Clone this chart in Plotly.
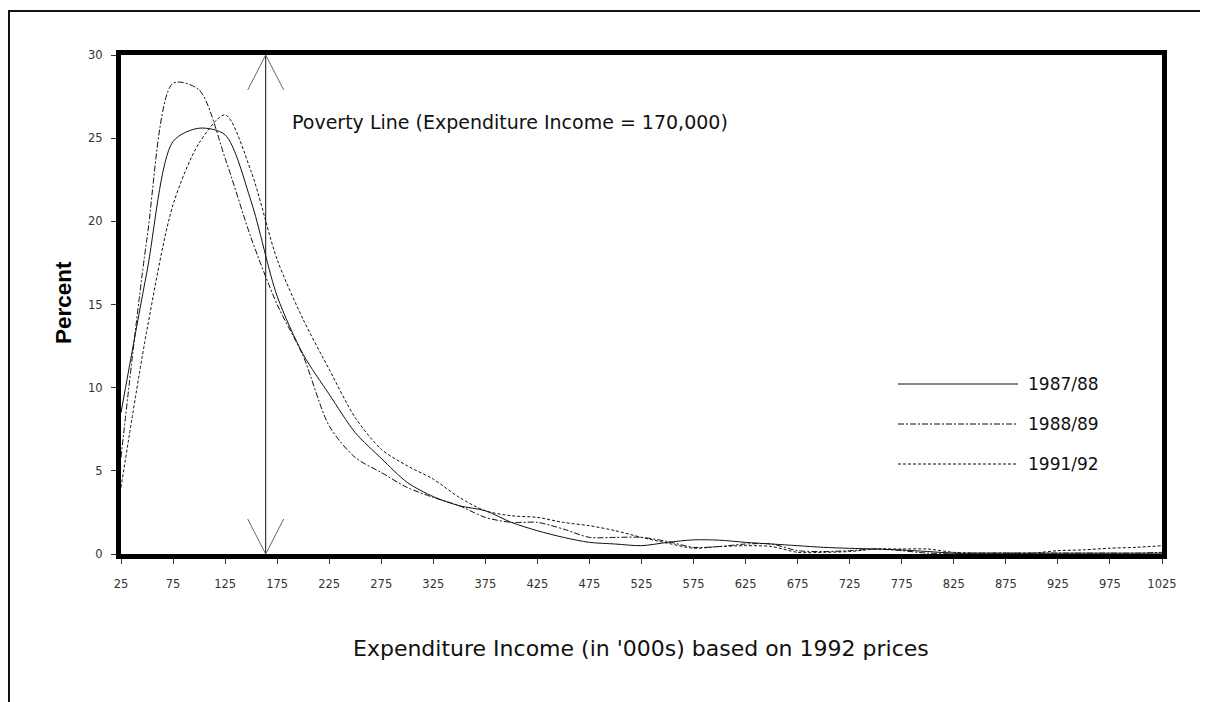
import plotly.graph_objects as go

# ---------------- data ----------------
income = [25, 50, 75, 100, 125, 150, 175, 200, 225, 250, 275, 300, 325, 350, 375,
          400, 425, 450, 475, 500, 525, 550, 575, 600, 625, 650, 675, 700, 725, 750,
          775, 800, 825, 850, 875, 900, 925, 950, 975, 1000, 1025]

pct_1987_88 = [8.5, 17.0, 24.8, 25.6, 25.2, 21.2, 15.5, 12.0, 9.6, 7.3, 5.75, 4.3, 3.45, 2.9, 2.6,
               1.9, 1.4, 1.0, 0.7, 0.6, 0.5, 0.7, 0.85, 0.83, 0.7, 0.6, 0.5, 0.4, 0.34, 0.3,
               0.24, 0.15, 0.05, 0.05, 0.05, 0.05, 0.05, 0.05, 0.05, 0.05, 0.05]

pct_1988_89 = [5.8, 19.0, 28.3, 27.9, 23.8, 19.0, 15.0, 11.9, 7.7, 5.8, 4.9, 4.0, 3.4, 2.9, 2.2,
               1.9, 1.9, 1.5, 1.0, 1.0, 1.0, 0.75, 0.4, 0.45, 0.6, 0.6, 0.2, 0.15, 0.2, 0.3,
               0.2, 0.05, 0.05, 0.05, 0.05, 0.05, 0.05, 0.05, 0.05, 0.05, 0.1]

pct_1991_92 = [4.0, 13.5, 21.0, 24.7, 26.4, 23.0, 17.7, 14.1, 11.1, 8.2, 6.3, 5.3, 4.5, 3.4, 2.6,
               2.3, 2.2, 1.9, 1.7, 1.4, 1.0, 0.65, 0.35, 0.45, 0.5, 0.45, 0.1, 0.1, 0.15, 0.3,
               0.3, 0.3, 0.1, 0.05, 0.05, 0.05, 0.2, 0.25, 0.35, 0.4, 0.5]

series_names = ["1987/88", "1988/89", "1991/92"]
series_values = [pct_1987_88, pct_1988_89, pct_1991_92]
series_dash = ["solid", "6px,2px,2px,2px", "3px,2px"]

x_ticks = list(range(25, 1026, 50))
y_ticks = [0, 5, 10, 15, 20, 25, 30]

poverty_x = 164
poverty_label = "Poverty Line (Expenditure Income = 170,000)"
x_title = "Expenditure Income (in '000s) based on 1992 prices"
y_title = "Percent"

# ---------------- layout helpers (page pixel coords; page body has 8px margin) ----------------
OFF = 8
PAGE_W, PAGE_H = 1208, 702
W, H = PAGE_W - OFF, PAGE_H - OFF
L, R, T, B = 121, 1162, 55, 554   # plot area in page pixels


def pxx(px):
    return (px - L) / (R - L)


def pxy(py):
    return (B - py) / (B - T)


FONT = "DejaVu Sans"

fig = go.Figure()
for name, vals, dash in zip(series_names, series_values, series_dash):
    fig.add_trace(go.Scatter(
        x=income, y=vals, name=name, mode="lines",
        line=dict(color="#111111", width=1, dash=dash, shape="spline", smoothing=0.8),
        showlegend=False, hoverinfo="x+y+name",
    ))

shapes = []
# outer frame
shapes.append(dict(type="rect", xref="paper", yref="paper",
                   x0=pxx(9), y0=pxy(11), x1=pxx(1300), y1=pxy(800),
                   line=dict(color="#111111", width=2), fillcolor="rgba(0,0,0,0)", layer="below"))
# poverty line (double arrow)
shapes.append(dict(type="line", xref="x", yref="y", x0=poverty_x, x1=poverty_x, y0=0, y1=30,
                   line=dict(color="#111111", width=1)))
for ya, sgn in ((30, -1), (0, 1)):
    for dx in (-18, 18):
        shapes.append(dict(type="line", xref="x", yref="y",
                           xsizemode="pixel", xanchor=poverty_x, x0=0, x1=dx,
                           ysizemode="pixel", yanchor=ya, y0=0, y1=sgn * 35,
                           line=dict(color="#666666", width=1)))

annotations = []
# legend drawn by hand to match long sample lines
leg_y = [384, 424, 464]
for name, dash, ly in zip(series_names, series_dash, leg_y):
    shapes.append(dict(type="line", xref="paper", yref="paper",
                       x0=pxx(898), x1=pxx(1018), y0=pxy(ly), y1=pxy(ly),
                       line=dict(color="#111111", width=1, dash=dash)))
    annotations.append(dict(xref="paper", yref="paper", x=pxx(1026), y=pxy(ly),
                            xanchor="left", yanchor="middle", showarrow=False,
                            text=name, font=dict(family=FONT, size=17, color="#111111")))

annotations.append(dict(xref="paper", yref="paper", x=pxx(290), y=pxy(122),
                        xanchor="left", yanchor="middle", showarrow=False,
                        text=poverty_label, font=dict(family=FONT, size=19, color="#111111")))
annotations.append(dict(xref="paper", yref="paper", x=pxx(641), y=pxy(648),
                        xanchor="center", yanchor="middle", showarrow=False,
                        text=x_title, font=dict(family=FONT, size=22, color="#111111")))
annotations.append(dict(xref="paper", yref="paper", x=pxx(63), y=pxy(303),
                        xanchor="center", yanchor="middle", showarrow=False, textangle=-90,
                        text="<b>" + y_title + "</b>",
                        font=dict(family="Liberation Sans", size=22.5, color="#000000")))

fig.update_layout(
    width=W, height=H,
    margin=dict(l=L - OFF, r=W - (R - OFF), t=T - OFF, b=H - (B - OFF), pad=0),
    paper_bgcolor="white", plot_bgcolor="white",
    shapes=shapes, annotations=annotations,
    showlegend=False,
    xaxis=dict(range=[25, 1025], tickvals=x_ticks, ticktext=[str(v) for v in x_ticks],
               showgrid=False, zeroline=False, showline=True, linecolor="#000000", linewidth=5,
               mirror=True, ticks="outside", ticklen=5, tickcolor="#333333", tickwidth=1,
               ticklabelstandoff=10,
               tickfont=dict(family=FONT, size=11.5, color="#333333")),
    yaxis=dict(range=[0, 30], tickvals=y_ticks,
               showgrid=False, zeroline=False, showline=True, linecolor="#000000", linewidth=5,
               mirror=True, ticks="outside", ticklen=5, tickcolor="#333333", tickwidth=1,
               ticklabelstandoff=6,
               tickfont=dict(family=FONT, size=11.5, color="#333333")),
)

fig.write_html("out.html")
